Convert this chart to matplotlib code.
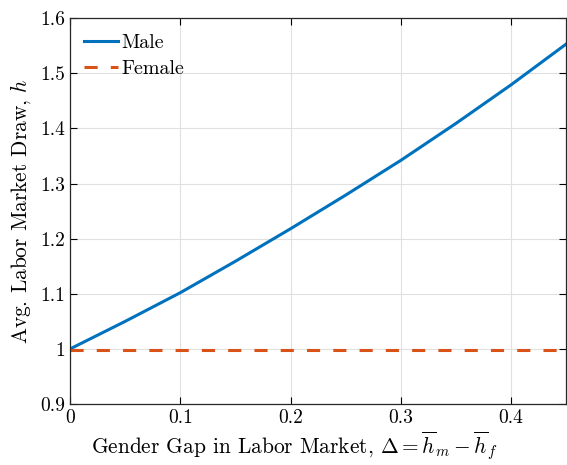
import matplotlib
matplotlib.use("Agg")
import matplotlib.pyplot as plt

plt.rcParams["font.family"] = "serif"
plt.rcParams["font.serif"] = ["cmr10", "DejaVu Serif"]
plt.rcParams["mathtext.fontset"] = "cm"
plt.rcParams["axes.formatter.use_mathtext"] = True

# valores
gap = [0.0, 0.05, 0.10, 0.15, 0.20, 0.25, 0.30, 0.35, 0.40, 0.45]
male = [1.0, 1.050, 1.102, 1.159, 1.218, 1.279, 1.342, 1.409, 1.479, 1.553]
female = [0.998, 0.998, 0.998, 0.998, 0.998, 0.998, 0.998, 0.998, 0.998, 0.998]

fig = plt.figure(figsize=(5.67, 4.65), dpi=100)
ax = fig.add_axes([0.1235, 0.131, 0.875, 0.830])

ax.plot(gap, male, color="#0072BD", lw=2.2, label="Male")
ax.plot(gap, female, color="#D95319", lw=2.2, dashes=(4.3, 4.3), label="Female")

ax.set_xlim(0, 0.45)
ax.set_ylim(0.9, 1.6)
ax.set_xticks([0, 0.1, 0.2, 0.3, 0.4])
ax.set_xticklabels(["0", "0.1", "0.2", "0.3", "0.4"])
ax.set_yticks([0.9, 1.0, 1.1, 1.2, 1.3, 1.4, 1.5, 1.6])
ax.set_yticklabels(["0.9", "1", "1.1", "1.2", "1.3", "1.4", "1.5", "1.6"])
ax.tick_params(direction="in", top=True, right=True, labelsize=14, length=5, width=0.8)
ax.grid(True, color="#e0e0e0", lw=0.8)
ax.set_axisbelow(True)
for s in ax.spines.values():
    s.set_color("#262626")
    s.set_linewidth(0.9)

ax.set_xlabel(r"Gender Gap in Labor Market, $\Delta = \overline{h}_m - \overline{h}_f$", fontsize=15.4)
ax.xaxis.set_label_coords(0.452, -0.068)
ax.set_ylabel(r"Avg. Labor Market Draw, $h$", fontsize=15.4)
ax.yaxis.set_label_coords(-0.075, 0.5)

ax.legend(loc="upper left", bbox_to_anchor=(0.0, 0.994), frameon=False, fontsize=14.4,
          handlelength=1.7, handletextpad=0.15, borderaxespad=0.3, labelspacing=0.4)

fig.savefig("out.png", dpi=100)
